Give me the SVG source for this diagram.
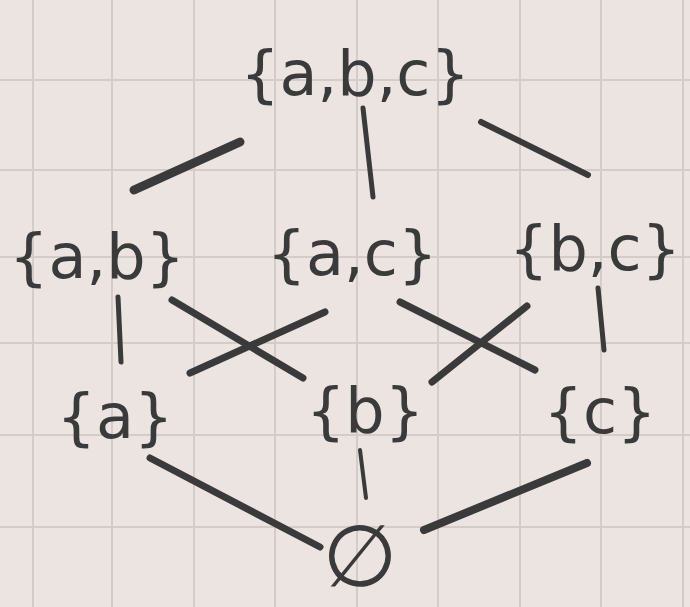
<svg xmlns="http://www.w3.org/2000/svg" width="690" height="607" viewBox="0 0 690 607">
<defs>
<style>
.bg{fill:#ebe4e0}
.grid line{stroke:#d3ccc8;stroke-width:2}
.lbl{font-family:"DejaVu Sans",sans-serif;font-size:62px;fill:#3a3a3a;text-anchor:middle}
.edges line{stroke:#3a3a3a;stroke-width:7;stroke-linecap:round}
</style>
</defs>
<rect class="bg" x="0" y="0" width="690" height="607"/>
<g class="grid">
<line x1="33" y1="0" x2="33" y2="607"/>
<line x1="112" y1="0" x2="112" y2="607"/>
<line x1="194" y1="0" x2="194" y2="607"/>
<line x1="275" y1="0" x2="275" y2="607"/>
<line x1="357" y1="0" x2="357" y2="607"/>
<line x1="438" y1="0" x2="438" y2="607"/>
<line x1="520" y1="0" x2="520" y2="607"/>
<line x1="601" y1="0" x2="601" y2="607"/>
<line x1="683" y1="0" x2="683" y2="607"/>
<line x1="0" y1="80" x2="690" y2="80"/>
<line x1="0" y1="170" x2="690" y2="170"/>
<line x1="0" y1="257" x2="690" y2="257"/>
<line x1="0" y1="343" x2="690" y2="343"/>
<line x1="0" y1="435" x2="690" y2="435"/>
<line x1="0" y1="527" x2="690" y2="527"/>
</g>
<g class="edges" id="connectors">
<line x1="240" y1="142" x2="134" y2="190" style="stroke-width:9"/>
<line x1="363" y1="108" x2="373" y2="197" style="stroke-width:5"/>
<line x1="481" y1="122" x2="588" y2="175" style="stroke-width:6"/>
<line x1="118" y1="297" x2="121" y2="362" style="stroke-width:5"/>
<line x1="172" y1="300" x2="303" y2="378"/>
<line x1="325" y1="312" x2="190" y2="373"/>
<line x1="400" y1="302" x2="535" y2="370"/>
<line x1="527" y1="306" x2="432" y2="382"/>
<line x1="598" y1="288" x2="604" y2="350" style="stroke-width:5"/>
<line x1="150" y1="458" x2="320" y2="547"/>
<line x1="360" y1="450" x2="366" y2="498" style="stroke-width:4"/>
<line x1="587" y1="463" x2="424" y2="530" style="stroke-width:8"/>
</g>
<g id="abc"><text class="lbl" x="355" y="95">{a,b,c}</text></g>
<g id="ab"><text class="lbl" x="97" y="278">{a,b}</text></g>
<g id="ac"><text class="lbl" x="352" y="275">{a,c}</text></g>
<g id="bc"><text class="lbl" x="595" y="270">{b,c}</text></g>
<g id="a"><text class="lbl" x="115" y="438">{a}</text></g>
<g id="b"><text class="lbl" x="365" y="432">{b}</text></g>
<g id="c"><text class="lbl" x="600" y="433">{c}</text></g>
<g id="empty"><text class="lbl" x="360" y="586" style="font-size:86px">∅</text></g>
</svg>
